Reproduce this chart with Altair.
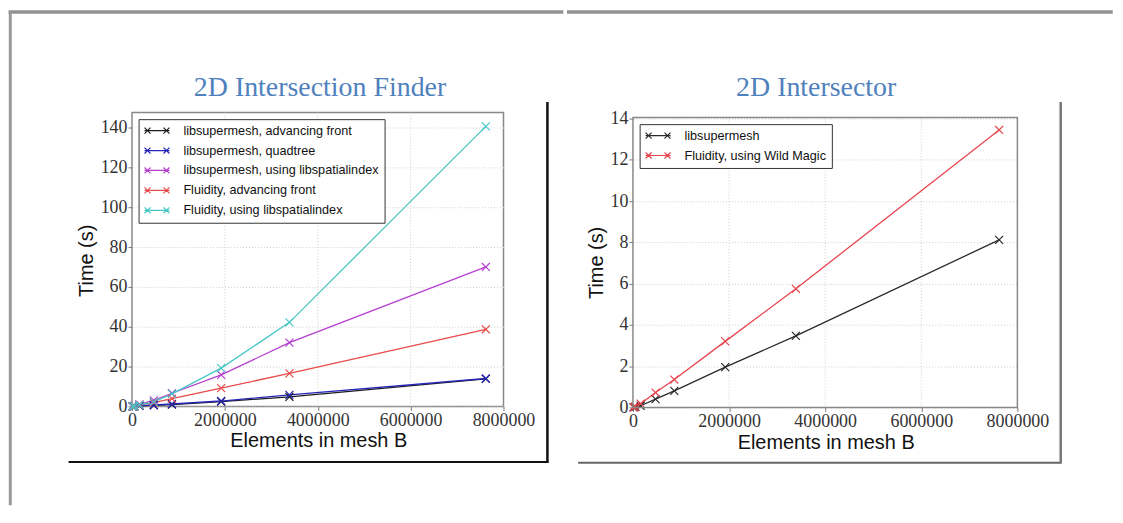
import altair as alt
import pandas as pd

# ---------------- data ----------------
x_elements = [12000, 50000, 160000, 470000, 860000, 1920000, 3390000, 7620000]

finder_series = [
    "libsupermesh, advancing front",
    "libsupermesh, quadtree",
    "libsupermesh, using libspatialindex",
    "Fluidity, advancing front",
    "Fluidity, using libspatialindex",
]
finder_colors = ["#1c1c1c", "#2626b8", "#b63fd0", "#e84b4b", "#48c6c6"]
lsm_advancing = [0.02, 0.08, 0.3, 0.55, 0.9, 2.4, 4.8, 13.8]
lsm_quadtree = [0.03, 0.1, 0.35, 0.7, 1.2, 2.7, 5.8, 14.0]
lsm_spatial = [0.04, 0.2, 1.0, 3.0, 6.6, 15.8, 32.0, 70.0]
fl_advancing = [0.03, 0.12, 0.6, 1.9, 3.9, 9.2, 16.6, 38.7]
fl_spatial = [0.02, 0.1, 0.7, 2.3, 6.3, 19.2, 42.2, 140.6]

intersector_series = ["libsupermesh", "Fluidity, using Wild Magic"]
intersector_colors = ["#2a2a2a", "#e8454f"]
lsm_intersector = [0.005, 0.02, 0.08, 0.4, 0.8, 1.95, 3.47, 8.12]
fl_wildmagic = [0.008, 0.04, 0.18, 0.72, 1.35, 3.2, 5.75, 13.45]

x_ticks = [0, 2000000, 4000000, 6000000, 8000000]
x_grid = [2000000, 4000000, 6000000]
finder_yticks = [0, 20, 40, 60, 80, 100, 120, 140]
intersector_yticks = [0, 2, 4, 6, 8, 10, 12, 14]


def long_df(series_names, series_values):
    rows = []
    for name, vals in zip(series_names, series_values):
        for xv, yv in zip(x_elements, vals):
            rows.append({"elements": xv, "time": yv, "series": name})
    return pd.DataFrame(rows)


finder_df = long_df(finder_series, [lsm_advancing, lsm_quadtree, lsm_spatial, fl_advancing, fl_spatial])
intersector_df = long_df(intersector_series, [lsm_intersector, fl_wildmagic])

XMARK = "M-1,-1L1,1M-1,1L1,-1"
LEGSYM = ("M-1,0L1,0M-1,-0.24L-0.52,0.24M-1,0.24L-0.52,-0.24"
          "M0.52,-0.24L1,0.24M0.52,0.24L1,-0.24")
ONE = pd.DataFrame({"k": [0]})
GRID_COLOR = "#cfcfcf"
FRAME_COLOR = "#888888"


def rule(spec):
    color, width, cap = spec["color"], spec["width"], spec.get("cap", "butt")
    m = alt.Chart(ONE).mark_rule(color=color, strokeWidth=width, strokeCap=cap)
    if "y" in spec:
        return m.encode(x=alt.value(spec["x1"]), x2=alt.value(spec["x2"]), y=alt.value(spec["y"]))
    return m.encode(x=alt.value(spec["x"]), y=alt.value(spec["y1"]), y2=alt.value(spec["y2"]))


def panel(df, series, colors, ymax, yvals, w, h, top, title, tpos, ytpos, xtpos, legpos, decor):
    # 'top' = pixel offset of the plot frame's top edge inside the panel
    manual_frame = top > 0
    xscale = alt.Scale(domain=[0, 8000000], nice=False, zero=False)
    yscale = alt.Scale(domain=[0, ymax], nice=False, zero=False, range=[h, top])
    xenc = alt.X(
        "elements:Q", scale=xscale,
        axis=alt.Axis(values=x_ticks, format="d", title="Elements in mesh B",
                      titleX=xtpos[0], titleY=xtpos[1], titleAlign="center",
                      titleBaseline="alphabetic", labelFlush=False, grid=False),
    )
    yenc = alt.Y(
        "time:Q", scale=yscale,
        axis=alt.Axis(values=yvals, title="Time (s)", titleX=ytpos[0], titleY=ytpos[1],
                      titleAngle=270, titleAlign="center", titleBaseline="alphabetic",
                      labelFlush=False),
    )
    cenc = alt.Color(
        "series:N",
        scale=alt.Scale(domain=series, range=colors),
        legend=alt.Legend(
            title=None, orient="none", legendX=legpos[0], legendY=legpos[1],
            symbolType=LEGSYM, symbolSize=625, symbolStrokeWidth=1.2,
            clipHeight=13, rowPadding=6, padding=5, labelOffset=13,
            labelFont="Liberation Sans", labelFontSize=12.7, labelColor="#111111",
            strokeColor="#333333", fillColor="white", cornerRadius=0, labelLimit=400,
        ),
    )
    vgrid = alt.Chart(pd.DataFrame({"elements": x_grid})).mark_rule(
        color=GRID_COLOR, strokeDash=[1, 2], strokeWidth=1
    ).encode(x=alt.X("elements:Q", scale=xscale), y=alt.value(top), y2=alt.value(h))
    base = alt.Chart(df).encode(x=xenc, y=yenc, color=cenc)
    lines = base.mark_line(strokeWidth=1.3)
    points = base.mark_point(shape=XMARK, filled=False, size=64, strokeWidth=1.2, opacity=1)
    ttl = alt.Chart(ONE).mark_text(
        text=title, font="Liberation Serif", fontSize=28, color="#4F81BD",
        align="center", baseline="alphabetic",
    ).encode(x=alt.value(tpos[0]), y=alt.value(tpos[1]))
    layers = [vgrid, lines, points, ttl]
    if manual_frame:
        layers.append(
            alt.Chart(ONE).mark_rect(fillOpacity=0, stroke=FRAME_COLOR, strokeWidth=1.5).encode(
                x=alt.value(0), x2=alt.value(w), y=alt.value(top), y2=alt.value(h)
            )
        )
    layers += [rule(s) for s in decor]
    out = alt.layer(*layers).properties(width=w, height=h)
    if manual_frame:
        out = out.properties(view=alt.ViewBackground(stroke="transparent"))
    return out


# both panel origins share page y ~111.7; panel 1 x ~131.7, panel 2 x ~631
p1 = panel(
    finder_df, finder_series, finder_colors, 147.5, finder_yticks, 373, 295, 0,
    "2D Intersection Finder", (188.8, -16.7), (-39.4, 148.3), (187, 40), (6.6, 6.6),
    [
        {"y": -100.95, "x1": -122.2, "x2": 431.3, "color": "#929292", "width": 3.5, "cap": "square"},
        {"x": -122.2, "y1": -100.7, "y2": 394.3, "color": "#999999", "width": 3},
        {"y": 350.8, "x1": -63.7, "x2": 418.3, "color": "#111111", "width": 2},
        {"x": 417.1, "y1": -10.7, "y2": 351.3, "color": "#111111", "width": 2.5},
    ],
)
p2 = panel(
    intersector_df, intersector_series, intersector_colors, 14.05, intersector_yticks, 386, 296, 5,
    "2D Intersector", (184, -16.7), (-30.5, 150.4), (193.5, 41.6), (6.7, 11.6),
    [
        {"y": -100.95, "x1": -64.5, "x2": 480, "color": "#929292", "width": 3.5, "cap": "square"},
        {"y": 351.6, "x1": -55, "x2": 430, "color": "#666666", "width": 2},
        {"x": 429.5, "y1": -10.7, "y2": 352.3, "color": "#777777", "width": 2.5},
    ],
)

chart = (
    alt.hconcat(p1, p2, spacing=0)
    .resolve_scale(color="independent", x="independent", y="independent")
    .resolve_legend(color="independent")
    .properties(padding={"left": -1.5, "top": -1, "right": 0, "bottom": 0}, background="white")
    .configure_view(stroke=FRAME_COLOR, strokeWidth=1.5)
    .configure_axis(
        domain=False, tickColor="#777777", tickSize=4, labelPadding=1,
        labelFont="Liberation Serif", labelFontSize=18, labelColor="#333333",
        titleFont="Liberation Sans", titleFontSize=20, titleColor="#111111",
        titleFontWeight="normal", grid=True, gridColor=GRID_COLOR, gridDash=[1, 2], gridWidth=1,
    )
)

chart.save("out.html", embed_options={"renderer": "svg", "actions": False})
